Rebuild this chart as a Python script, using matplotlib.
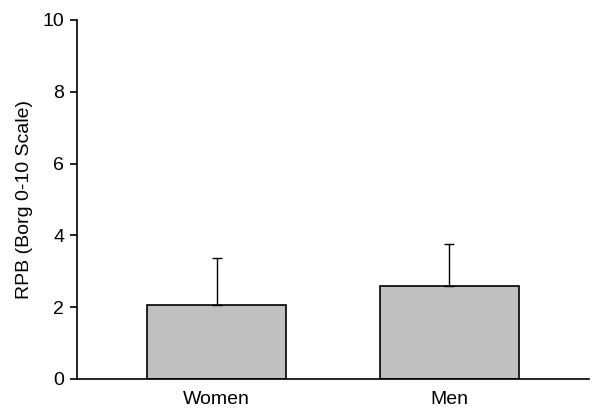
import matplotlib
matplotlib.use("Agg")
import matplotlib.pyplot as plt

# data
groups = ["Women", "Men"]
rpb_mean = [2.05, 2.60]
rpb_sd = [1.33, 1.16]

plt.rcParams['font.family'] = ['Liberation Sans', 'DejaVu Sans']

fig = plt.figure(figsize=(6.0, 4.19), dpi=100)
ax = fig.add_axes([0.128, 0.0955, 0.854, 0.857])

x = range(len(groups))
ax.bar(x, rpb_mean, width=0.6, color='#c0c0c0', edgecolor='black', linewidth=1.2,
       yerr=[[0] * len(rpb_sd), rpb_sd],
       error_kw=dict(ecolor='black', elinewidth=1.0, capsize=3.5, capthick=1.0))

ax.set_xlim(-0.6, 1.6)
ax.set_ylim(0, 10)
ax.set_yticks([0, 2, 4, 6, 8, 10])
ax.set_xticks(list(x))
ax.set_xticklabels(groups, fontsize=14)
ax.tick_params(axis='y', labelsize=14, length=5, width=1.2, direction='out', pad=4)
ax.tick_params(axis='x', length=0, pad=9)
ax.set_ylabel('RPB (Borg 0-10 Scale)', fontsize=14, labelpad=7)

for side in ['top', 'right']:
    ax.spines[side].set_visible(False)
for side in ['left', 'bottom']:
    ax.spines[side].set_linewidth(1.2)

fig.savefig('out.png', dpi=100)
